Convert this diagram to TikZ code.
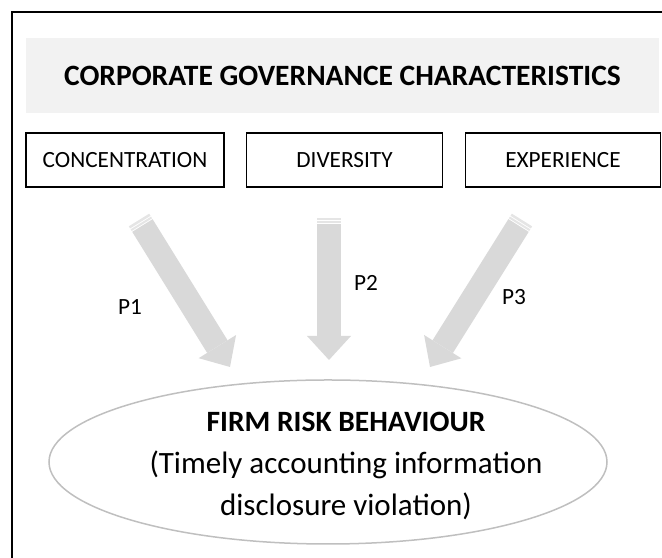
\documentclass[tikz,border=0pt]{standalone}
\usepackage{fontspec}
\setmainfont{Carlito}
\usepackage{tikz}
\usetikzlibrary{calc, shapes, arrows.meta}

\begin{document}
\begin{tikzpicture}[x=0.4pt,y=-0.4pt]
\tikzstyle{cbox}=[draw,line width=0.7pt,minimum width=79pt,minimum height=21.6pt,inner sep=0pt,font=\fontsize{9.3}{11}\selectfont]
\tikzstyle{garrow}=[draw=black!15,line width=9.6pt,-{Triangle[width=17.6pt,length=9.6pt,line width=0pt]}]
\tikzstyle{gstripe}=[draw=black!10,line width=9.6pt]
\tikzstyle{plabel}=[font=\fontsize{9.3}{11}\selectfont]
\useasboundingbox (0,0) rectangle (662,558);
\clip (0,0) rectangle (662,558);
\draw[line width=0.8pt] (12,12) rectangle (720,620);
\node[fill=black!5,minimum width=253.2pt,minimum height=30pt,font=\fontsize{11.8}{14}\selectfont\bfseries] (cgc) at (342.5,75.5) {CORPORATE GOVERNANCE CHARACTERISTICS};
\node[cbox] (conc) at (125,160) {CONCENTRATION};
\node[cbox,minimum width=78.4pt] (div) at (344.5,160) {DIVERSITY};
\node[cbox,minimum width=78pt] (expe) at (563,160) {EXPERIENCE};
\node[ellipse,draw=black!25,line width=0.6pt,minimum width=223.2pt,minimum height=65.6pt,inner sep=0pt] (risk) at (328,462) {};
\node[align=center,font=\fontsize{12.4}{16.8}\selectfont] (risktext) at (346,466) {{\fontsize{11.8}{14}\selectfont\bfseries FIRM RISK BEHAVIOUR}\\(Timely accounting information\\disclosure violation)};
\coordinate (p1s) at (139,220);
\coordinate (p1e) at (230,367);
\coordinate (p2s) at (329,218);
\coordinate (p2e) at (329,360);
\coordinate (p3s) at (522,220);
\coordinate (p3e) at (430,367);
% P1
\draw[gstripe] (p1s) -- ($(p1s)!1pt!(p1e)$);
\draw[gstripe] ($(p1s)!1.4pt!(p1e)$) -- ($(p1s)!2.2pt!(p1e)$);
\draw[garrow] ($(p1s)!2.6pt!(p1e)$) -- (p1e);
% P2
\draw[gstripe] (p2s) -- ($(p2s)!1pt!(p2e)$);
\draw[gstripe] ($(p2s)!1.4pt!(p2e)$) -- ($(p2s)!2.2pt!(p2e)$);
\draw[garrow] ($(p2s)!2.6pt!(p2e)$) -- (p2e);
% P3
\draw[gstripe] (p3s) -- ($(p3s)!1pt!(p3e)$);
\draw[gstripe] ($(p3s)!1.4pt!(p3e)$) -- ($(p3s)!2.2pt!(p3e)$);
\draw[garrow] ($(p3s)!2.6pt!(p3e)$) -- (p3e);
\node[plabel] (lp1) at (130,307) {P1};
\node[plabel] (lp2) at (366,283) {P2};
\node[plabel] (lp3) at (514,297) {P3};
\end{tikzpicture}
\end{document}
